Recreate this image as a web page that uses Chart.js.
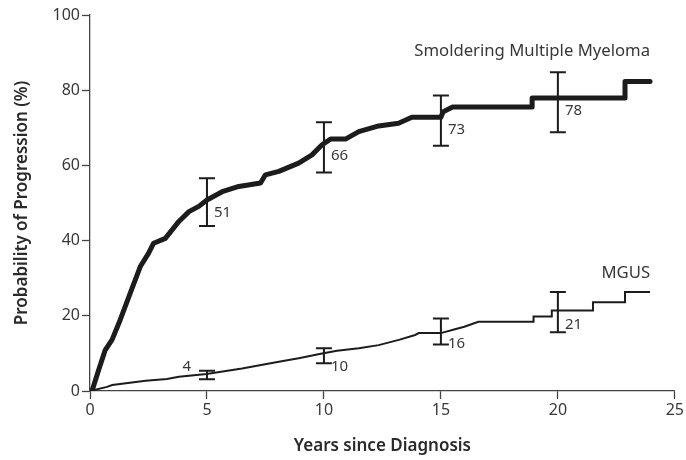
<!DOCTYPE html>
<html>
<head>
<meta charset="utf-8">
<script src="https://cdn.jsdelivr.net/npm/chart.js@4/dist/chart.umd.min.js"></script>
<style>
  html, body { margin: 0; padding: 0; background: #fff; }
  #wrap { width: 686px; height: 460px; }
</style>
</head>
<body>
<div id="wrap"><canvas id="chart" width="686" height="460"></canvas></div>
<script>
// Kaplan-Meier style curves: [years, percent]
const smmCurve = [
  [0, 0], [0.1, 0.3], [0.37, 5.6], [0.65, 10.9], [0.94, 13.6], [1.29, 18.9],
  [1.72, 26], [2.15, 33.1], [2.5, 36.6], [2.72, 39.3], [3.22, 40.6], [3.8, 45.1],
  [4.23, 47.7], [4.65, 49.1], [5.0, 50.8], [5.65, 53], [6.36, 54.4], [7.29, 55.3],
  [7.5, 57.5], [8.07, 58.4], [8.92, 60.6], [9.49, 62.8], [9.92, 65.5], [10.28, 67],
  [10.92, 67], [11.49, 69], [12.34, 70.5], [13.19, 71.2], [13.76, 72.8], [15.0, 72.8],
  [15.1, 74.3], [15.5, 75.5], [18.9, 75.5], [18.9, 77.9], [22.87, 77.9], [22.87, 82.3],
  [23.94, 82.3],
];

const mgusCurve = [
  [0, 0], [0.73, 1.1], [0.95, 1.6], [2.38, 2.7], [3.29, 3.2], [3.8, 3.8],
  [4.98, 4.5], [6.5, 6.0], [8.07, 7.8], [8.92, 8.7], [9.92, 10.0], [10.56, 10.7],
  [11.49, 11.4], [12.34, 12.2], [13.2, 13.6], [13.9, 14.9], [14.05, 15.4], [15.0, 15.4],
  [15.6, 16.4], [16.0, 17.1], [16.6, 18.4], [18.96, 18.4], [18.96, 19.8], [19.74, 19.8],
  [19.74, 21.4], [21.5, 21.4], [21.5, 23.6], [22.87, 23.6], [22.87, 26.3], [23.94, 26.3],
];

// 95% CI bars at fixed years
const ciYears = [5, 10, 15, 20];
const smmLow = [43.9, 58.1, 65.2, 68.8];
const smmHigh = [56.6, 71.5, 78.6, 84.8];
const smmValues = [51, 66, 73, 78];
const mgusLow = [3.1, 7.4, 12.4, 15.6];
const mgusHigh = [5.4, 11.4, 19.3, 26.3];
const mgusValues = [4, 10, 16, 21];

const seriesNames = ['Smoldering Multiple Myeloma', 'MGUS'];
const xTicks = [0, 5, 10, 15, 20, 25];
const yTicks = [0, 20, 40, 60, 80, 100];

const INK = '#1c1c1c';
const TEXT = '#383838';
const FONT = '"Noto Sans", "Open Sans", sans-serif';

const toXY = (pts) => pts.map(([x, y]) => ({ x, y }));

// draws CI bars, the numbers next to them and the series names
const ciPlugin = {
  id: 'ciBars',
  afterDatasetsDraw(chart) {
    const { ctx, scales: { x, y } } = chart;
    const groups = [
      { low: smmLow, high: smmHigh, values: smmValues, curve: smmCurve, name: seriesNames[0], nameDy: -30 },
      { low: mgusLow, high: mgusHigh, values: mgusValues, curve: mgusCurve, name: seriesNames[1], nameDy: -19 },
    ];
    ctx.save();
    ctx.strokeStyle = INK;
    ctx.lineWidth = 2;
    ctx.fillStyle = TEXT;
    ctx.textBaseline = 'middle';
    groups.forEach((g, gi) => {
      ctx.font = '15px ' + FONT;
      ciYears.forEach((yr, i) => {
        const px = x.getPixelForValue(yr);
        const top = y.getPixelForValue(g.high[i]);
        const bot = y.getPixelForValue(g.low[i]);
        ctx.beginPath();
        ctx.moveTo(px, top); ctx.lineTo(px, bot);
        ctx.moveTo(px - 8, top); ctx.lineTo(px + 8, top);
        ctx.moveTo(px - 8, bot); ctx.lineTo(px + 8, bot);
        ctx.stroke();
        const vy = y.getPixelForValue(g.values[i]);
        if (gi === 1 && i === 0) {
          ctx.textAlign = 'right';
          ctx.fillText(String(g.values[i]), px - 16, vy - 9);
        } else {
          ctx.textAlign = 'left';
          ctx.fillText(String(g.values[i]), px + 7, vy + 13);
        }
      });
      const last = g.curve[g.curve.length - 1];
      ctx.textAlign = 'right';
      ctx.font = '16.7px ' + FONT;
      ctx.fillText(g.name, x.getPixelForValue(last[0]), y.getPixelForValue(last[1]) + g.nameDy);
    });
    ctx.restore();
  },
};

new Chart(document.getElementById('chart'), {
  type: 'line',
  data: {
    datasets: [
      { label: seriesNames[0], data: toXY(smmCurve), borderColor: INK, borderWidth: 5, pointRadius: 0, tension: 0, borderJoinStyle: 'round', borderCapStyle: 'round' },
      { label: seriesNames[1], data: toXY(mgusCurve), borderColor: INK, borderWidth: 2, pointRadius: 0, tension: 0 },
    ],
  },
  options: {
    responsive: false,
    animation: false,
    events: [],
    layout: { padding: { top: 15, right: 10, left: 0, bottom: 0 } },
    plugins: { legend: { display: false }, tooltip: { enabled: false } },
    scales: {
      x: {
        type: 'linear',
        min: 0,
        max: 25,
        afterFit: (s) => { s.height = 69; },
        afterBuildTicks: (s) => { s.ticks = xTicks.map((v) => ({ value: v })); },
        ticks: { color: TEXT, font: { family: FONT, size: 16 }, padding: 2 },
        grid: { drawOnChartArea: false, drawTicks: true, tickLength: 8, color: '#444', tickWidth: 1.3 },
        border: { display: true, color: '#444', width: 1.3 },
        title: { display: true, text: 'Years since Diagnosis', color: '#2a2a2a', font: { family: FONT, size: 17, weight: '600' }, padding: { top: 0, bottom: 4 } },
      },
      y: {
        min: 0,
        max: 100,
        afterFit: (s) => { s.width = 90; },
        afterBuildTicks: (s) => { s.ticks = yTicks.map((v) => ({ value: v })); },
        ticks: { color: TEXT, font: { family: FONT, size: 16 }, padding: 2 },
        grid: { drawOnChartArea: false, drawTicks: true, tickLength: 8, color: '#444', tickWidth: 1.3 },
        border: { display: true, color: '#444', width: 1.3 },
        title: { display: true, text: 'Probability of Progression (%)', color: '#2a2a2a', font: { family: FONT, size: 17, weight: '600' }, padding: { top: 12, bottom: 0 } },
      },
    },
  },
  plugins: [ciPlugin],
});
</script>
</body>
</html>
